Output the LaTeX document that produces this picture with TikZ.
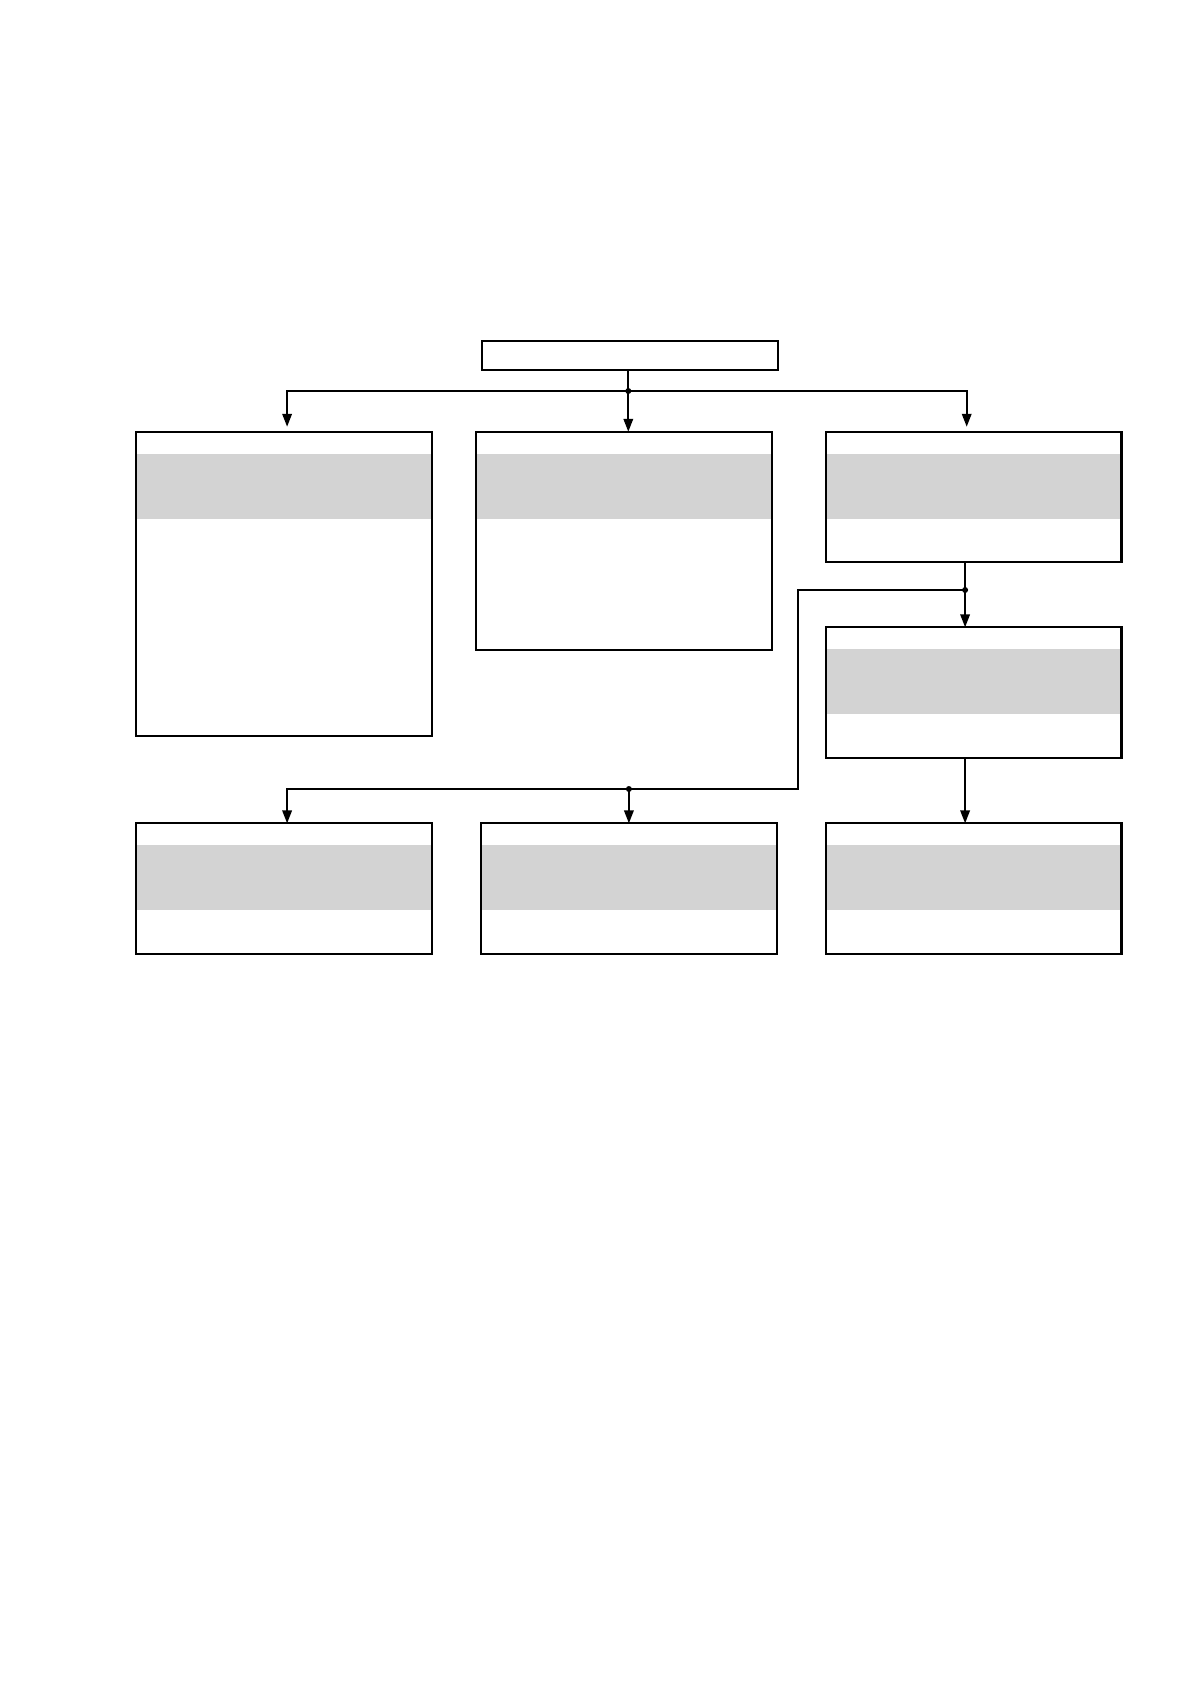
\documentclass[tikz,border=0pt]{standalone}
\usetikzlibrary{arrows.meta}
\definecolor{bandgray}{HTML}{D3D3D3}
\begin{document}
\begin{tikzpicture}[x=1pt,y=-1pt,
  plainbox/.style={draw=black, line width=2.2pt, fill=white, inner sep=0pt, outer sep=0pt, minimum width=295.7pt},
  box/.style={plainbox, path picture={\fill[bandgray] ([yshift=-22pt]path picture bounding box.north west) rectangle ([yshift=-87pt]path picture bounding box.north east);}},
  conn/.style={line width=2pt, draw=black},
  arr/.style={conn, -{Triangle[length=13pt,width=9.5pt]}},
  jdot/.style={circle, fill=black, inner sep=0pt, minimum size=6pt}]
\useasboundingbox[fill=white] (0,0) rectangle (1191,1684);
% boxes
\node[plainbox, minimum height=29.3pt] (T) at (629.8,355.4) {};
\node[box, minimum height=304.3pt] (L1) at (284.1,583.9) {};
\node[box, minimum height=218.3pt] (M1) at (624.2,540.9) {};
\node[box, minimum height=130.3pt] (R1) at (973.7,496.9) {};
\node[box, minimum height=130.4pt] (R2) at (973.7,692.5) {};
\node[box, minimum height=130.7pt] (B1) at (284.1,888.7) {};
\node[box, minimum height=130.7pt] (B2) at (629.2,888.7) {};
\node[box, minimum height=130.7pt] (B3) at (973.7,888.7) {};
% column coordinates
\coordinate (cL) at (287.1,0);
\coordinate (cM) at (628.3,0);
\coordinate (cR) at (966.7,0);
\coordinate (cS) at (965.1,0);
\coordinate (cB) at (628.9,0);
\coordinate (J1) at (628.3,391);
\coordinate (J2) at (965.1,590);
\coordinate (K1) at (798.4,590);
\coordinate (K2) at (798.4,789);
\coordinate (J3) at (628.9,789);
% top connectors
\draw[conn] (cM |- T.south) -- (J1);
\draw[arr, shorten >=5pt] (J1) -| (cL |- L1.north);
\draw[arr] (J1) -- (cM |- M1.north);
\draw[arr, shorten >=5pt] (J1) -| (cR |- R1.north);
\node[jdot] (D1) at (J1) {};
% right column
\draw[conn] (cS |- R1.south) -- (J2);
\draw[arr] (J2) -- (cS |- R2.north);
\draw[arr] (cS |- R2.south) -- (cS |- B3.north);
\node[jdot] (D2) at (J2) {};
% branch to bottom left
\draw[conn] (J2) -- (K1) -- (K2) -- (J3);
\draw[arr] (J3) -| (cL |- B1.north);
\draw[arr] (J3) -- (cB |- B2.north);
\node[jdot] (D3) at (J3) {};
\end{tikzpicture}
\end{document}
